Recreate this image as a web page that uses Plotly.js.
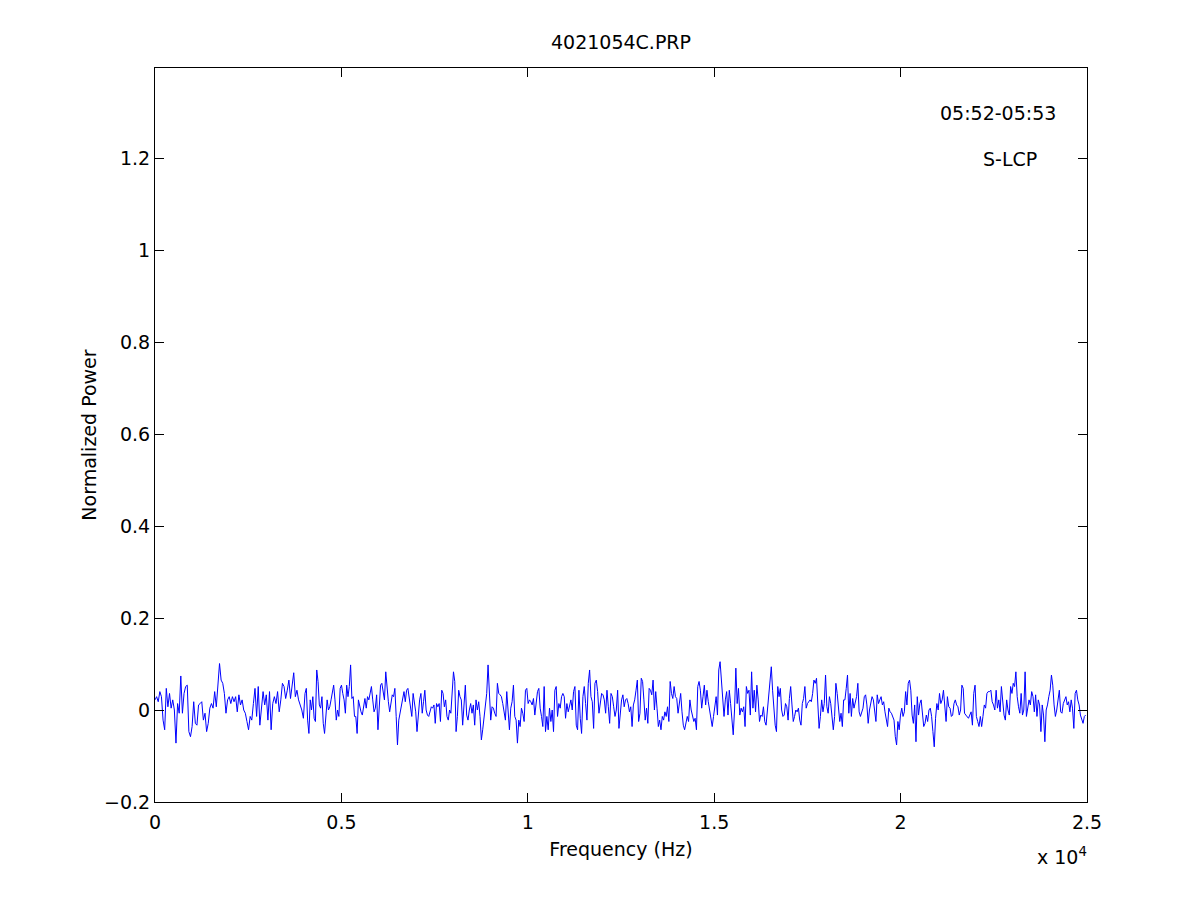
<!DOCTYPE html>
<html>
<head>
<meta charset="utf-8">
<script src="https://cdn.plot.ly/plotly-3.0.1.min.js"></script>
<style>
  body { margin: 0; background: #fff; }
  #spec { width: 1201px; height: 901px; }
</style>
</head>
<body>
<div id="spec"></div>
<script>
/* normalized power spectrum */

// frequency (Hz) where each block of readings starts; last entry is the end of the band
var blockEdges = [0, 4024, 8181, 12339, 16497, 20655, 25000];

// normalized power, one block per edge interval
var power1 = [0.022, 0.029, 0.018, 0.040, 0.029, -0.022, -0.043, 0.047, 0.007, 0.036,
    0.004, 0.022, 0.000, -0.072, 0.014, -0.007, 0.074, -0.007, 0.036, 0.051,
    0.054, -0.047, -0.058, -0.036, 0.018, -0.029, -0.033, 0.011, 0.014, 0.018,
    -0.022, -0.007, -0.047, -0.029, 0.004, 0.014, 0.004, 0.040, 0.007, 0.058,
    0.101, 0.065, 0.058, 0.036, -0.007, 0.022, 0.029, 0.014, 0.029, 0.018,
    0.029, -0.004, 0.033, 0.011, 0.022, 0.000, -0.007, -0.025, -0.043, -0.014,
    -0.022, 0.014, 0.047, -0.014, 0.051, -0.033, 0.000, 0.040, 0.011, 0.033,
    -0.022, 0.040, -0.043, 0.014, 0.029, 0.014, 0.040, -0.004, 0.022, 0.058,
    0.051, 0.025, 0.043, 0.065, 0.025, 0.051, 0.081, 0.029, 0.043, 0.022,
    0.011, 0.000, -0.018];

var power2 = [0.036, 0.047, -0.022, -0.051, 0.022, 0.000, 0.029, -0.018, -0.025, 0.087,
    0.062, 0.011, 0.004, 0.029, -0.029, -0.051, -0.004, 0.022, 0.000, 0.007,
    0.022, 0.036, 0.054, 0.022, -0.022, 0.000, -0.014, 0.047, 0.054, 0.036,
    0.022, -0.007, 0.054, 0.029, 0.051, 0.098, 0.025, 0.029, -0.014, -0.014,
    -0.051, 0.022, 0.004, -0.004, -0.011, 0.011, 0.025, 0.004, 0.029, 0.022,
    0.036, 0.051, 0.022, -0.004, 0.004, 0.033, -0.043, 0.000, 0.054, 0.058,
    0.036, 0.022, 0.083, 0.043, 0.018, -0.004, 0.022, 0.033, 0.029, 0.047,
    -0.014, -0.076, -0.022, -0.007, 0.011, 0.025, 0.040, 0.018, 0.043, 0.047,
    0.025, 0.011, -0.014, 0.036, 0.014, -0.004, -0.047, -0.007, 0.022, 0.036,
    -0.007, 0.018, 0.043, 0.000, -0.011, -0.014, 0.000, 0.007, 0.004, 0.011,
    -0.029, 0.014, 0.007, 0.014, -0.025, 0.043, 0.036, 0.007, 0.022, -0.014,
    -0.022, 0.000, -0.007, 0.043, 0.083, 0.062, -0.047, -0.014, 0.043];

var power3 = [0.029, 0.022, -0.033, 0.014, 0.054, -0.011, -0.022, 0.000, 0.014, -0.007,
    0.011, -0.033, 0.022, 0.000, 0.018, -0.014, -0.065, -0.043, -0.014, 0.014,
    0.036, 0.098, 0.022, -0.022, 0.007, 0.004, -0.007, -0.014, 0.058, 0.036,
    0.033, 0.029, 0.014, -0.007, -0.022, 0.040, -0.014, -0.043, 0.004, 0.018,
    0.054, -0.014, -0.022, -0.072, -0.022, -0.036, 0.004, -0.007, -0.025, 0.043,
    0.047, 0.014, 0.022, 0.018, 0.011, 0.025, -0.011, 0.022, 0.040, 0.047,
    0.004, -0.014, -0.036, 0.051, -0.047, -0.014, -0.043, 0.004, -0.025, 0.000,
    -0.047, 0.043, 0.051, -0.014, 0.014, 0.004, 0.029, 0.036, 0.029, -0.018,
    0.014, -0.004, 0.011, 0.022, 0.000, 0.040, 0.051, -0.033, -0.043, 0.043,
    -0.018, -0.051, 0.029, 0.051, 0.014, -0.022, 0.058, 0.087, 0.029, 0.018,
    -0.040, 0.058, 0.065, 0.040, -0.007, 0.014, 0.036, 0.033, 0.022, -0.007,
    0.043, 0.007, -0.029, 0.036, 0.029, 0.007];

var power4 = [-0.014, 0.000, 0.043, -0.040, -0.007, 0.022, 0.033, 0.007, 0.022, 0.025,
    0.014, -0.004, 0.007, -0.036, 0.011, 0.022, 0.043, 0.065, -0.025, -0.007,
    0.069, 0.062, 0.022, -0.022, 0.004, -0.029, 0.047, 0.043, 0.033, 0.065,
    0.000, 0.040, 0.004, -0.036, -0.022, -0.043, -0.014, -0.022, -0.004, -0.014,
    0.007, -0.025, 0.062, 0.036, 0.025, 0.051, 0.029, 0.025, -0.007, 0.014,
    0.036, -0.004, -0.033, -0.043, -0.025, -0.014, -0.025, 0.022, 0.000, -0.011,
    -0.025, -0.018, -0.043, 0.051, 0.062, 0.043, 0.004, 0.029, 0.054, 0.011,
    0.043, 0.018, 0.000, -0.025, -0.036, -0.014, 0.014, 0.029, -0.011, 0.087,
    0.105, 0.058, 0.029, -0.014, 0.022, 0.040, -0.011, 0.043, 0.014, -0.025,
    -0.054, 0.000, 0.091, 0.014, 0.047, -0.011, 0.004, -0.004, 0.007, -0.036,
    0.051, 0.036, 0.043, -0.011, 0.083, 0.004, 0.043, -0.004, 0.054, 0.022,
    -0.025, -0.011, -0.014, 0.007, -0.025, -0.033, 0.000, 0.033];

var power5 = [0.058, 0.094, 0.043, -0.007, -0.033, -0.047, 0.051, 0.029, 0.047, 0.000,
    -0.014, -0.011, 0.014, 0.007, -0.022, 0.025, 0.051, 0.011, -0.025, -0.014,
    0.000, -0.004, 0.004, -0.022, -0.033, 0.014, 0.025, 0.051, 0.004, 0.014,
    0.018, 0.022, 0.018, 0.036, 0.065, 0.058, 0.069, 0.011, -0.040, -0.014,
    0.022, -0.004, 0.014, 0.076, 0.007, -0.007, 0.029, 0.014, -0.014, -0.043,
    -0.014, 0.058, 0.036, -0.004, -0.025, -0.007, -0.036, 0.022, 0.022, 0.047,
    0.076, -0.007, 0.036, -0.014, 0.025, 0.004, 0.014, 0.029, 0.058, -0.004,
    -0.014, -0.007, 0.004, 0.029, 0.033, 0.011, -0.029, 0.000, 0.014, 0.029,
    0.022, -0.004, -0.025, 0.033, 0.014, 0.022, 0.029, 0.011, 0.018, -0.004,
    -0.025, -0.036, 0.004, -0.004, -0.007, -0.014, -0.022, -0.058, -0.076, -0.025,
    -0.043, -0.011, 0.004, -0.014, -0.004, 0.040, 0.011, 0.058, 0.065, 0.043,
    -0.011, -0.029, 0.011, -0.069, 0.029, -0.011, 0.014, 0.022, -0.007, -0.036];

var power6 = [-0.029, -0.011, -0.025, 0.000, 0.004, -0.014, -0.047, -0.080, -0.018, 0.014,
    0.000, 0.036, 0.014, 0.022, 0.043, 0.004, -0.025, 0.029, 0.007, 0.004,
    -0.014, -0.011, 0.014, 0.022, 0.011, 0.007, -0.011, 0.000, 0.054, 0.047,
    -0.007, -0.011, -0.014, -0.018, -0.011, -0.004, -0.033, 0.036, 0.054, -0.014,
    -0.025, -0.036, -0.014, -0.036, -0.014, 0.011, 0.004, 0.036, 0.040, 0.040,
    0.043, 0.018, 0.011, 0.000, 0.043, 0.004, 0.022, -0.004, 0.051, 0.014,
    -0.011, -0.022, 0.022, 0.000, -0.011, 0.051, 0.036, 0.058, 0.051, 0.083,
    0.029, 0.007, -0.007, 0.036, -0.011, 0.000, 0.083, -0.014, 0.004, 0.022,
    0.011, 0.040, 0.029, -0.004, 0.033, -0.014, 0.022, 0.011, -0.047, 0.011,
    -0.011, -0.069, 0.000, 0.011, 0.029, 0.043, 0.076, 0.054, 0.011, -0.014,
    0.000, 0.029, 0.043, -0.004, -0.007, 0.014, 0.022, 0.029, 0.011, 0.018,
    -0.004, 0.022, 0.004, -0.040, 0.036, 0.043, 0.022, 0.011, -0.011, -0.018,
    -0.029, -0.014, -0.011];

var xTickVals = [0, 5000, 10000, 15000, 20000, 25000];
var xTickText = ['0', '0.5', '1', '1.5', '2', '2.5'];
var yTickVals = [-0.2, 0, 0.2, 0.4, 0.6, 0.8, 1, 1.2];

var blocks = [power1, power2, power3, power4, power5, power6];

// spread each block's readings evenly over its frequency interval
var freq = [];
var power = [];
for (var b = 0; b < blocks.length; b++) {
    var f0 = blockEdges[b], f1 = blockEdges[b + 1];
    var n = blocks[b].length;
    for (var k = 0; k < n; k++) {
        freq.push(f0 + (f1 - f0) * k / n);
        power.push(blocks[b][k]);
    }
}

var trace = {
    x: freq,
    y: power,
    mode: 'lines',
    type: 'scatter',
    line: { color: 'rgb(0,0,255)', width: 1 },
    hoverinfo: 'x+y'
};

var axisFont = { family: 'DejaVu Sans, Liberation Sans, sans-serif', size: 19, color: '#000' };

var layout = {
    width: 1201,
    height: 901,
    paper_bgcolor: '#fff',
    plot_bgcolor: '#fff',
    margin: { l: 155, r: 114, t: 68, b: 99 },
    showlegend: false,
    font: axisFont,
    title: {
        text: '4021054C.PRP',
        font: axisFont,
        x: 0.5,
        xref: 'paper',
        y: 1,
        yref: 'paper',
        yanchor: 'bottom',
        pad: { b: 19 }
    },
    xaxis: {
        range: [0, 25000],
        tickvals: xTickVals,
        ticktext: xTickText,
        ticks: 'inside',
        ticklen: 9,
        tickcolor: '#000',
        showline: true,
        linecolor: '#000',
        linewidth: 1,
        mirror: 'ticks',
        showgrid: false,
        zeroline: false,
        tickfont: axisFont,
        ticklabelstandoff: 3,
        title: { text: 'Frequency (Hz)', font: axisFont, standoff: 10 }
    },
    yaxis: {
        range: [-0.2, 1.3957],
        tickvals: yTickVals,
        ticks: 'inside',
        ticklen: 9,
        tickcolor: '#000',
        showline: true,
        linecolor: '#000',
        linewidth: 1,
        mirror: 'ticks',
        showgrid: false,
        zeroline: false,
        tickfont: axisFont,
        title: { text: 'Normalized Power', font: axisFont, standoff: 2 }
    },
    annotations: [
        { text: '05:52-05:53', x: 22613, y: 1.298, xref: 'x', yref: 'y',
          showarrow: false, font: axisFont },
        { text: 'S-LCP', x: 22935, y: 1.198, xref: 'x', yref: 'y',
          showarrow: false, font: axisFont },
        { text: 'x 10<sup>4</sup>', x: 1, y: 0, xref: 'paper', yref: 'paper',
          xanchor: 'right', yanchor: 'top', yshift: -40, xshift: 2,
          showarrow: false, font: axisFont }
    ]
};

Plotly.newPlot('spec', [trace], layout, { displayModeBar: false, staticPlot: true });
</script>
</body>
</html>
